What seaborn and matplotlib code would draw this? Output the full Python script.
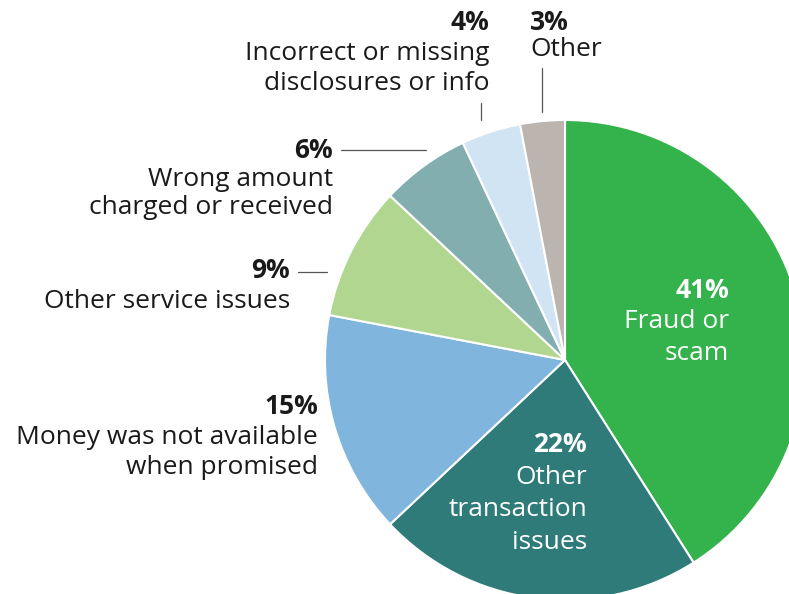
import matplotlib
matplotlib.use("Agg")
import matplotlib.pyplot as plt
import seaborn as sns
from matplotlib.lines import Line2D

categories = ["Fraud or scam", "Other transaction issues", "Money was not available when promised",
              "Other service issues", "Wrong amount charged or received",
              "Incorrect or missing disclosures or info", "Other"]
values = [41, 22, 15, 9, 6, 4, 3]
colors = ["#34b24c", "#2e7b7a", "#80b5dd", "#b0d68f", "#83aeaf", "#d0e4f3", "#bcb4ae"]

sns.set_theme(style="white")
plt.rcParams['font.family'] = ['Open Sans', 'DejaVu Sans']

W, H = 789, 594
fig = plt.figure(figsize=(W / 100, H / 100), dpi=100)
fig.patch.set_facecolor("white")

cx, cy, r = 565, 360, 240
ax = fig.add_axes([(cx - r) / W, (H - cy - r) / H, 2 * r / W, 2 * r / H])
wedges, _ = ax.pie(values, colors=colors, startangle=90, counterclock=False, radius=1,
                   wedgeprops=dict(edgecolor="white", linewidth=1.5))
ax.set_xlim(-1, 1)
ax.set_ylim(-1, 1)
ax.set_aspect("auto")
ax.axis("off")

def P(x, y):
    return x / W, 1 - y / H

dark = "#1a1a1a"
fs = 19

def label(x, y, pct, lines, ha, color, gap=31):
    fig.text(*P(x, y), pct, ha=ha, va="center", fontsize=fs, fontweight="bold", color=color)
    for i, ln in enumerate(lines):
        fig.text(*P(x, y + gap * (i + 1)), ln, ha=ha, va="center", fontsize=fs, color=color)

label(729, 291, "41%", ["Fraud or", "scam"], "right", "white")
label(587, 445, "22%", ["Other", "transaction", "issues"], "right", "white", gap=32.5)
label(318, 407, "15%", ["Money was not available", "when promised"], "right", dark, gap=30.5)
label(290, 270, "9%", ["Other service issues"], "right", dark)
label(333, 150, "6%", ["Wrong amount", "charged or received"], "right", dark, gap=29)
label(489, 22, "4%", ["Incorrect or missing", "disclosures or info"], "right", dark, gap=31)
label(530, 22, "3%", ["Other"], "left", dark, gap=28)

lc = "#555555"
def line(x1, y1, x2, y2):
    fig.add_artist(Line2D([x1 / W, x2 / W], [1 - y1 / H, 1 - y2 / H], color=lc, lw=0.9))

line(341, 150, 426, 150)
line(298, 272, 327, 272)
line(481, 103, 481, 120)
line(542, 68, 542, 112)

fig.savefig("out.png", dpi=100)
